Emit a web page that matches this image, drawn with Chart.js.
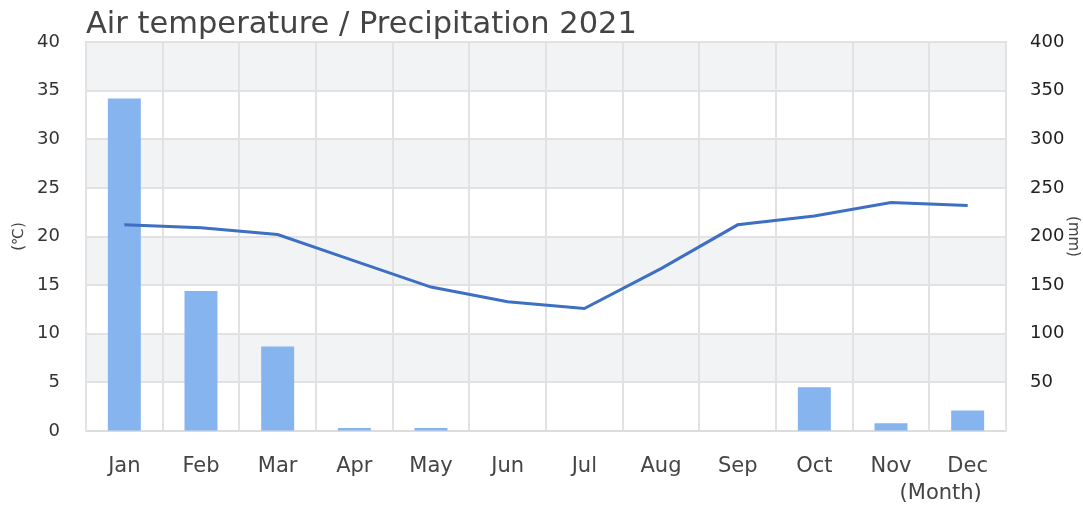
<!DOCTYPE html>
<html>
<head>
<meta charset="utf-8">
<script src="https://cdn.jsdelivr.net/npm/chart.js@4/dist/chart.umd.min.js"></script>
<style>
  html, body { margin: 0; padding: 0; background: #fff; }
  #wrap { width: 1083px; height: 507px; }
</style>
</head>
<body>
<div id="wrap"><canvas id="chart"></canvas></div>
<script>
// data
const months = ['Jan', 'Feb', 'Mar', 'Apr', 'May', 'Jun', 'Jul', 'Aug', 'Sep', 'Oct', 'Nov', 'Dec'];
const temperature = [21.2, 20.9, 20.2, 17.5, 14.8, 13.3, 12.6, 16.7, 21.2, 22.1, 23.5, 23.2];
const precipitation = [342, 144, 87, 3, 3, 0, 0, 0, 0, 45, 8, 21];
const chartTitle = 'Air temperature / Precipitation 2021';
const tempLabel = '(℃)';
const rainLabel = '(mm)';
const monthLabel = '(Month)';

const FONT = "'DejaVu Sans', sans-serif";

// alternating grey bands behind the grid
const bandPlugin = {
  id: 'bands',
  beforeDraw(chart) {
    const { ctx, chartArea } = chart;
    const y = chart.scales.y;
    const ticks = y.ticks.map(t => t.value);
    ctx.save();
    ctx.fillStyle = '#f2f3f5';
    for (let i = ticks.length - 1; i > 0; i -= 2) {
      const top = y.getPixelForValue(ticks[i]);
      const bot = y.getPixelForValue(ticks[i - 1]);
      ctx.fillRect(chartArea.left, top, chartArea.right - chartArea.left, bot - top);
    }
    ctx.restore();
  }
};

// title over the plot's left edge and the "(Month)" note under Dec
const textPlugin = {
  id: 'texts',
  afterDraw(chart) {
    const { ctx, chartArea } = chart;
    const x = chart.scales.x;
    ctx.save();
    ctx.fillStyle = '#444';
    ctx.font = '30.5px ' + FONT;
    ctx.textAlign = 'left';
    ctx.textBaseline = 'alphabetic';
    ctx.fillText(chartTitle, chartArea.left, 33);
    ctx.font = '21px ' + FONT;
    ctx.textAlign = 'center';
    ctx.textBaseline = 'middle';
    ctx.fillText(monthLabel, x.getPixelForValue(months.length - 1) - 27, 494);
    ctx.restore();
  }
};

new Chart(document.getElementById('chart'), {
  data: {
    labels: months,
    datasets: [
      {
        type: 'line',
        data: temperature,
        yAxisID: 'y',
        borderColor: '#3d6fc2',
        borderWidth: 3,
        pointRadius: 0,
        tension: 0,
        order: 0
      },
      {
        type: 'bar',
        data: precipitation,
        yAxisID: 'y1',
        backgroundColor: '#85b4ee',
        barPercentage: 0.43,
        categoryPercentage: 1,
        order: 1
      }
    ]
  },
  options: {
    responsive: true,
    maintainAspectRatio: false,
    animation: false,
    layout: { padding: { top: 42, left: 0, right: 0, bottom: 0 } },
    plugins: {
      legend: { display: false },
      tooltip: { enabled: false }
    },
    scales: {
      x: {
        offset: true,
        grid: { offset: true, color: '#e2e2e2', lineWidth: 2, drawTicks: false },
        border: { color: '#dcdcdc', width: 2 },
        ticks: { color: '#444', font: { family: FONT, size: 21 }, padding: 23 },
        afterFit: s => { s.height = 76; }
      },
      y: {
        position: 'left',
        min: 0,
        max: 40,
        ticks: { stepSize: 5, color: '#333', font: { family: FONT, size: 18 }, padding: 26 },
        grid: { color: '#e2e2e2', lineWidth: 2, drawTicks: false },
        border: { color: '#e2e2e2', width: 2 },
        title: { display: true, text: tempLabel, color: '#444', font: { family: FONT, size: 15 }, padding: 10 },
        afterFit: s => { s.width = 86; }
      },
      y1: {
        position: 'right',
        min: 0,
        max: 400,
        ticks: {
          stepSize: 50,
          color: '#222',
          font: { family: FONT, size: 18 },
          padding: 24,
          callback: v => (v === 0 ? '' : v)
        },
        grid: { drawOnChartArea: false, drawTicks: false },
        border: { color: '#e2e2e2', width: 2 },
        title: { display: true, text: rainLabel, color: '#444', font: { family: FONT, size: 15 }, padding: 1 },
        afterFit: s => { s.width = 77; }
      }
    }
  },
  plugins: [bandPlugin, textPlugin]
});
</script>
</body>
</html>
